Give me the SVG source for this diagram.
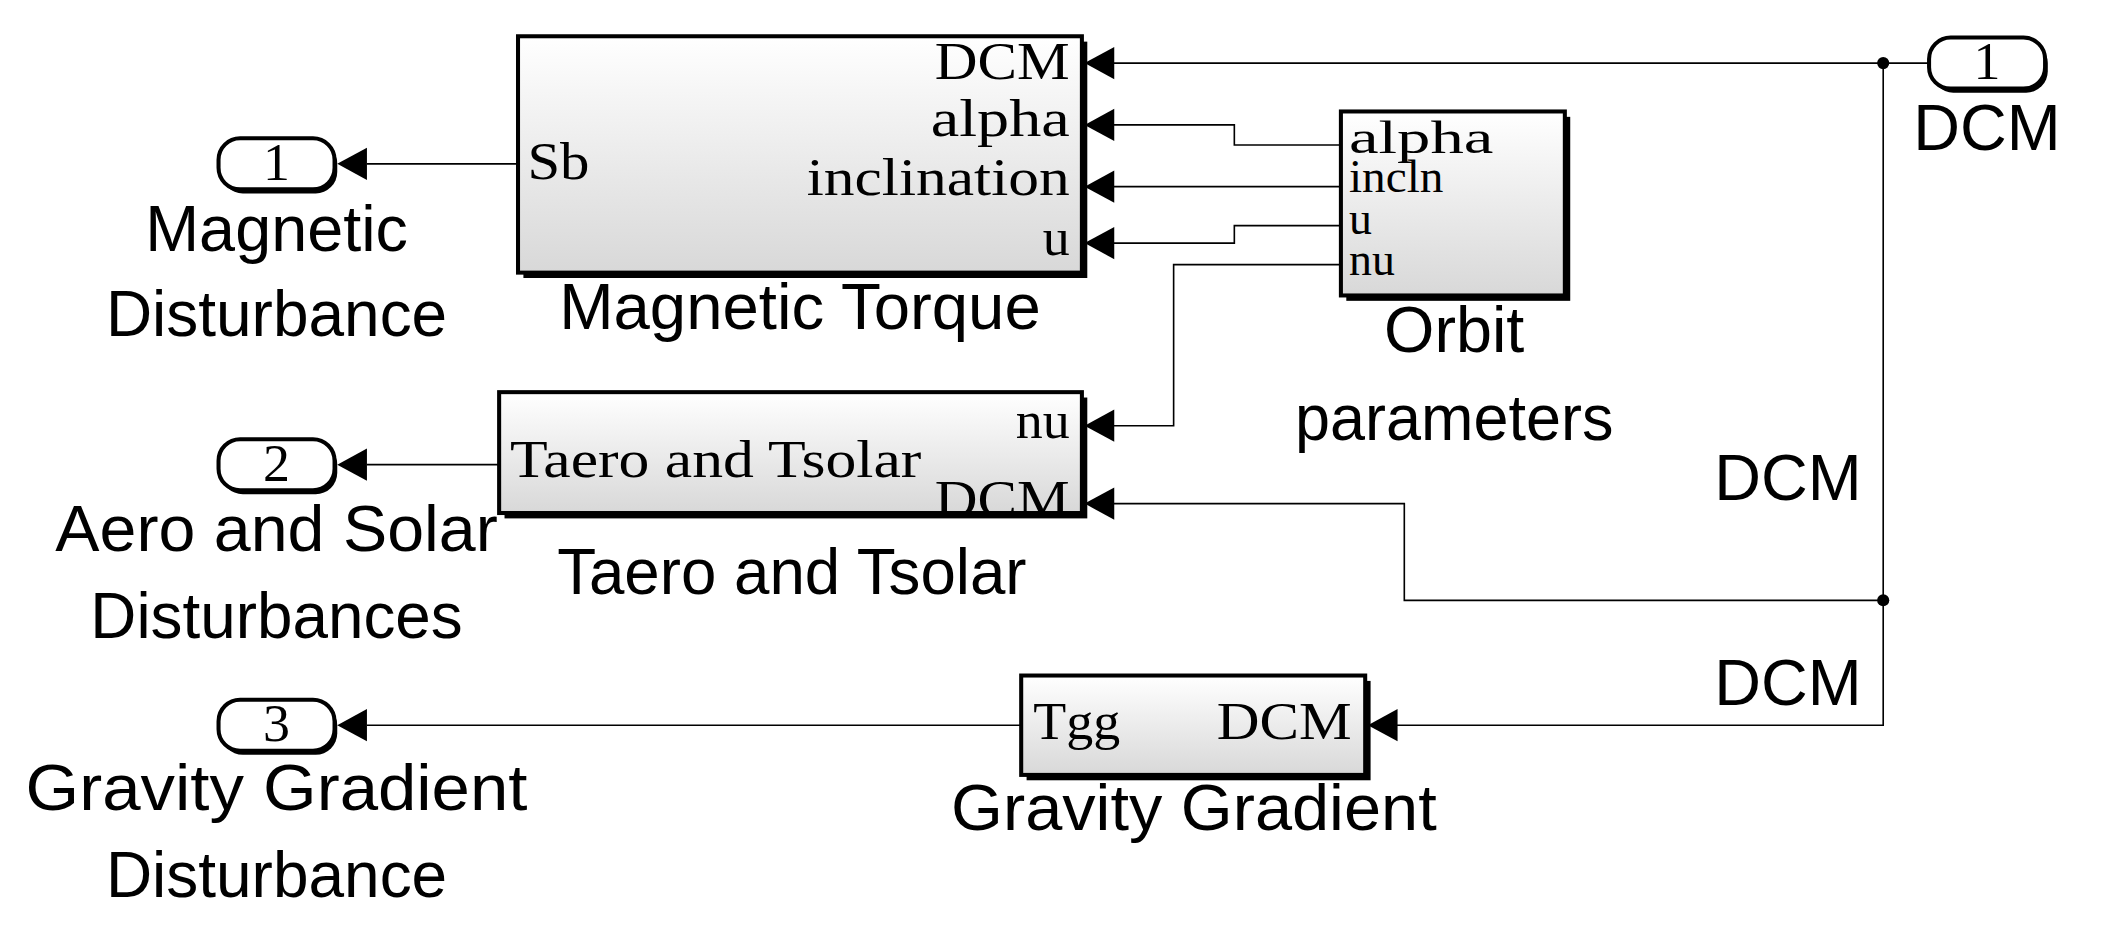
<svg xmlns="http://www.w3.org/2000/svg" width="2115" height="947" viewBox="0 0 2115 947">
<defs>
<linearGradient id="gr" x1="0" y1="0" x2="0" y2="1"><stop offset="0" stop-color="#ffffff"/><stop offset="1" stop-color="#d8d8d8"/></linearGradient>
<style>
.blk{fill:url(#gr);stroke:#000;stroke-width:3}
.sh{fill:#000}
.port{fill:#fff;stroke:#000;stroke-width:3}
.w{fill:none;stroke:#000;stroke-width:1.2}
.sf{font-family:"Liberation Serif",serif;font-size:40px;fill:#000}
.so{font-family:"Liberation Serif",serif;font-size:34px;fill:#000}
.ss{font-family:"Liberation Sans",Arial,sans-serif;font-size:48px;fill:#000}
.r{text-anchor:end}.m{text-anchor:middle}
</style>
</defs>
<rect width="2115" height="947" fill="#fff"/>
<g transform="scale(1.349 1.343)">
<g id="connectors">
<path class="w" d="M384,122 H272"/>
<path class="w" d="M370,346 H272"/>
<path class="w" d="M757,540 H272"/>
<path class="w" d="M1430,47 H824"/>
<path class="w" d="M1396,47 V540 H1034"/>
<path class="w" d="M1396,447 H1041 V375 H824"/>
<path class="w" d="M994,108 H915 V93 H824"/>
<path class="w" d="M994,139 H824"/>
<path class="w" d="M994,168 H915 V181 H824"/>
<path class="w" d="M994,197 H870 V317 H824"/>
<circle cx="1396" cy="47" r="4.5"/>
<circle cx="1396" cy="447" r="4.5"/>
<g fill="#000">
<path d="M250,122 L272,110 L272,134 Z"/>
<path d="M250,346 L272,334 L272,358 Z"/>
<path d="M250,540 L272,528 L272,552 Z"/>
<path d="M804,47 L826,35 L826,59 Z"/>
<path d="M804,93 L826,81 L826,105 Z"/>
<path d="M804,139 L826,127 L826,151 Z"/>
<path d="M804,181 L826,169 L826,193 Z"/>
<path d="M804,317 L826,305 L826,329 Z"/>
<path d="M804,375 L826,363 L826,387 Z"/>
<path d="M1014,540 L1036,528 L1036,552 Z"/>
</g>
</g>
<g id="magTorque">
<rect class="sh" x="388" y="31" width="418" height="176"/>
<rect class="blk" x="384" y="27" width="418" height="176"/>
<text class="sf r" x="793" y="59" textLength="100" lengthAdjust="spacingAndGlyphs">DCM</text>
<text class="sf r" x="793" y="101" textLength="103" lengthAdjust="spacingAndGlyphs">alpha</text>
<text class="sf r" x="793" y="145" textLength="195" lengthAdjust="spacingAndGlyphs">inclination</text>
<text class="sf r" x="793" y="190">u</text>
<text class="sf" x="391" y="133" textLength="46" lengthAdjust="spacingAndGlyphs">Sb</text>
<text class="ss m" x="593" y="245" textLength="357" lengthAdjust="spacingAndGlyphs">Magnetic Torque</text>
</g>
<g id="orbit">
<rect class="sh" x="998" y="87" width="166" height="137"/>
<rect class="blk" x="994" y="83" width="166" height="137"/>
<text class="so" x="1000" y="114" textLength="107" lengthAdjust="spacingAndGlyphs">alpha</text>
<text class="so" x="1000" y="143" textLength="70" lengthAdjust="spacingAndGlyphs">incln</text>
<text class="so" x="1000" y="174">u</text>
<text class="so" x="1000" y="205">nu</text>
<text class="ss m" x="1078" y="262">Orbit</text>
<text class="ss m" x="1078" y="328" textLength="236" lengthAdjust="spacingAndGlyphs">parameters</text>
</g>
<g id="taero">
<rect class="sh" x="374" y="296" width="432" height="90"/>
<rect class="blk" x="370" y="292" width="432" height="90"/>
<text class="sf r" x="793" y="326">nu</text>
<text class="sf r" x="793" y="385" textLength="100" lengthAdjust="spacingAndGlyphs">DCM</text>
<text class="sf" x="378" y="355" textLength="305" lengthAdjust="spacingAndGlyphs">Taero and Tsolar</text>
<text class="ss m" x="587" y="442" textLength="348" lengthAdjust="spacingAndGlyphs">Taero and Tsolar</text>
</g>
<g id="gravity">
<rect class="sh" x="761" y="507" width="255" height="74"/>
<rect class="blk" x="757" y="503" width="255" height="74"/>
<text class="sf" x="766" y="550">Tgg</text>
<text class="sf r" x="1002" y="550" textLength="100" lengthAdjust="spacingAndGlyphs">DCM</text>
<text class="ss m" x="885" y="618" textLength="360" lengthAdjust="spacingAndGlyphs">Gravity Gradient</text>
</g>
<g id="out1">
<rect class="sh" x="164" y="106" width="86" height="38" rx="16"/>
<rect class="port" x="162" y="103" width="86" height="38" rx="16"/>
<text class="sf m" x="205" y="134">1</text>
<text class="ss m" x="205" y="187">Magnetic</text>
<text class="ss m" x="205" y="250" textLength="253" lengthAdjust="spacingAndGlyphs">Disturbance</text>
</g>
<g id="out2">
<rect class="sh" x="164" y="330" width="86" height="38" rx="16"/>
<rect class="port" x="162" y="327" width="86" height="38" rx="16"/>
<text class="sf m" x="205" y="358">2</text>
<text class="ss m" x="205" y="410" textLength="328" lengthAdjust="spacingAndGlyphs">Aero and Solar</text>
<text class="ss m" x="205" y="475" textLength="276" lengthAdjust="spacingAndGlyphs">Disturbances</text>
</g>
<g id="out3">
<rect class="sh" x="164" y="524" width="86" height="38" rx="16"/>
<rect class="port" x="162" y="521" width="86" height="38" rx="16"/>
<text class="sf m" x="205" y="552">3</text>
<text class="ss m" x="205" y="603" textLength="372" lengthAdjust="spacingAndGlyphs">Gravity Gradient</text>
<text class="ss m" x="205" y="668" textLength="253" lengthAdjust="spacingAndGlyphs">Disturbance</text>
</g>
<g id="in1">
<rect class="sh" x="1432" y="31" width="86" height="38" rx="16"/>
<rect class="port" x="1430" y="28" width="86" height="38" rx="16"/>
<text class="sf m" x="1473" y="59">1</text>
<text class="ss m" x="1473" y="112">DCM</text>
</g>
<g id="labels">
<text class="ss r" x="1380" y="372">DCM</text>
<text class="ss r" x="1380" y="525">DCM</text>
</g>
</g>
</svg>
